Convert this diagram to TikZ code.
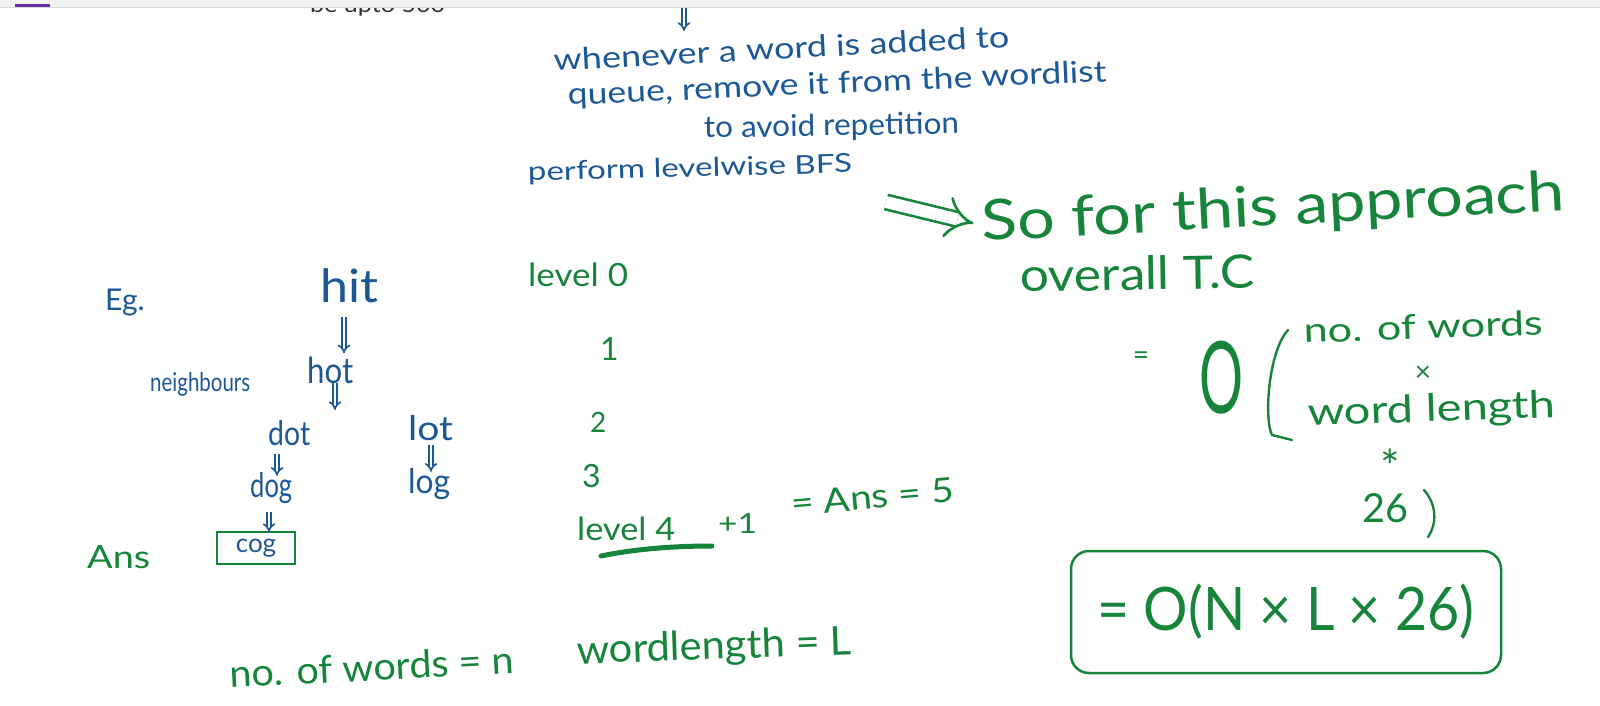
\documentclass[tikz,border=0pt]{standalone}
\usepackage{fontspec}
\setmainfont{Lato}
\usetikzlibrary{arrows.meta}
\definecolor{inkblue}{RGB}{28,88,150}
\definecolor{inkgreen}{RGB}{22,132,58}
\definecolor{barpurple}{RGB}{110,44,160}
\newcommand\fsz[1]{\fontsize{#1}{#1}\selectfont}
\newcommand\hw[2]{\resizebox{#1pt}{\height}{#2}}
\begin{document}
\begin{tikzpicture}[x=1pt,y=-1pt,
  btxt/.style={text=inkblue, inner sep=0pt, anchor=base west},
  gtxt/.style={text=inkgreen, inner sep=0pt, anchor=base west},
  dbl/.style={draw=inkblue, line width=1.7pt, double=white, double distance=2.4pt, -{Implies}},
  gdbl/.style={draw=inkgreen, line width=2.6pt, double=white, double distance=12pt, -{Implies}},
  gline/.style={draw=inkgreen, line width=2.4pt, line cap=round, line join=round}]
\useasboundingbox (0,0) rectangle (1600,706);
\fill[white] (0,0) rectangle (1600,706);

% clipped text at the very top
\node[text=black!80, inner sep=0pt, anchor=base west, font=\fsz{22}] (cut) at (310,13) {\hw{135}{be upto 500}};
\fill[black!5] (0,0) rectangle (1600,7);
\draw[black!15, line width=1pt] (0,7.5) -- (1600,7.5);
\fill[barpurple] (15,4) rectangle (50,7);

% top blue notes
\coordinate (topa) at (684,8);
\coordinate (topb) at (684,31);
\draw[dbl] (topa) -- (topb);
\node[btxt, rotate=3, font=\fsz{30}] (when) at (554,71) {\hw{456}{whenever a word is added to}};
\node[btxt, rotate=2.5, font=\fsz{30}] (queue) at (568,105) {\hw{539}{queue, remove it from the wordlist}};
\node[btxt, rotate=1, font=\fsz{30}] (avoid) at (704,138) {\hw{255}{to avoid repetition}};
\node[btxt, rotate=1.5, font=\fsz{26}] (perform) at (528,181) {\hw{324}{perform levelwise BFS}};

% example tree
\node[btxt, font=\fsz{30}] (eg) at (105,310) {Eg.};
\node[btxt, font=\fsz{46}] (hit) at (320,302) {\hw{58}{hit}};
\node[btxt, font=\fsz{26}] (nb) at (150,391) {\hw{100}{neighbours}};
\node[btxt, font=\fsz{36}] (hot) at (307,383) {\hw{46}{hot}};
\node[btxt, font=\fsz{34}] (dot) at (268,445) {\hw{42}{dot}};
\node[btxt, font=\fsz{34}] (lot) at (408,440) {\hw{45}{lot}};
\node[btxt, font=\fsz{34}] (dog) at (250,497) {\hw{42}{dog}};
\node[btxt, font=\fsz{34}] (log) at (408,493) {\hw{42}{log}};
\node[draw=inkgreen, line width=2pt, text=inkblue, inner sep=0pt, minimum width=78pt, minimum height=32pt, font=\fsz{26}] (cog) at (256,548) {cog};
\node[gtxt, font=\fsz{32}] (ans) at (87,568) {\hw{63}{Ans}};

\coordinate (xa) at (344,0);
\coordinate (xb) at (335,0);
\coordinate (xc) at (277,0);
\coordinate (xd) at (431,0);
\coordinate (xe) at (269,0);
\coordinate (hotend) at (335,410);
\draw[dbl, shorten <=14pt, shorten >=3pt] (hit.south -| xa) -- (hot.north -| xa);
\draw[dbl] (hot.south -| xb) -- (hotend);
\draw[dbl, shorten <=9pt, shorten >=-4pt] (dot.south -| xc) -- (dog.north -| xc);
\draw[dbl, shorten <=5pt, shorten >=-4pt] (lot.south -| xd) -- (log.north -| xd);
\draw[dbl, shorten <=9pt, shorten >=-1pt] (dog.south -| xe) -- (cog.north -| xe);

% levels
\node[gtxt, font=\fsz{32}] (l0) at (528,286) {\hw{100}{level 0}};
\node[gtxt, font=\fsz{32}] (l1) at (600,360) {1};
\node[gtxt, font=\fsz{28}] (l2) at (590,432) {2};
\node[gtxt, font=\fsz{32}] (l3) at (582,487) {3};
\node[gtxt, font=\fsz{32}] (l4) at (577,540) {\hw{98}{level 4}};
\draw[gline, line width=5pt] (601,556) .. controls (640,548) and (680,546) .. (712,546);
\node[gtxt, font=\fsz{28}] (plus) at (718,533) {\hw{39}{+1}};
\node[gtxt, rotate=5, font=\fsz{34}] (ansv) at (792,516) {\hw{163}{= Ans = 5}};

% right side complexity
\coordinate (gstart) at (886,202);
\node[gtxt, rotate=3, font=\fsz{56}] (so) at (982,241) {\hw{584}{So for this approach}};
\draw[gdbl, shorten >=8pt] (gstart) -- (so.west);
\node[gtxt, rotate=1, font=\fsz{46}] (overall) at (1020,292) {\hw{235}{overall T.C}};
\node[text=inkgreen, inner sep=0pt, font=\fsz{28}] (eq1) at (1141,358) {=};
\node[text=inkgreen, inner sep=0pt, anchor=base, font=\fsz{100}] (bigo) at (1221,413) {\hw{44}{O}};
\draw[gline] (1288,330) .. controls (1268,352) and (1264,420) .. (1272,435) -- (1292,440);
\node[gtxt, rotate=2, font=\fsz{34}] (now) at (1304,343) {\hw{239}{no. of words}};
\node[text=inkgreen, inner sep=0pt, font=\fsz{28}] (tm) at (1423,374) {×};
\node[gtxt, rotate=2, font=\fsz{38}] (wl) at (1308,426) {\hw{248}{word length}};
\node[text=inkgreen, inner sep=0pt, anchor=north, font=\fsz{46}] (star) at (1390,449) {*};
\node[gtxt, font=\fsz{40}] (tw) at (1362,522) {\hw{46}{26}};
\draw[gline] (1424,490) .. controls (1437,505) and (1437,524) .. (1428,537);
\node[draw=inkgreen, line width=2.5pt, rounded corners=18pt, text=inkgreen, inner sep=0pt,
      minimum width=430pt, minimum height=122pt, font=\fsz{60}] (final) at (1286,612) {\hw{377}{= O(N × L × 26)}};

% bottom definitions
\node[gtxt, rotate=3, font=\fsz{38}] (defn) at (230,688) {\hw{285}{no. of words = n}};
\node[gtxt, rotate=2, font=\fsz{40}] (defl) at (577,664) {\hw{275}{wordlength = L}};
\end{tikzpicture}
\end{document}
